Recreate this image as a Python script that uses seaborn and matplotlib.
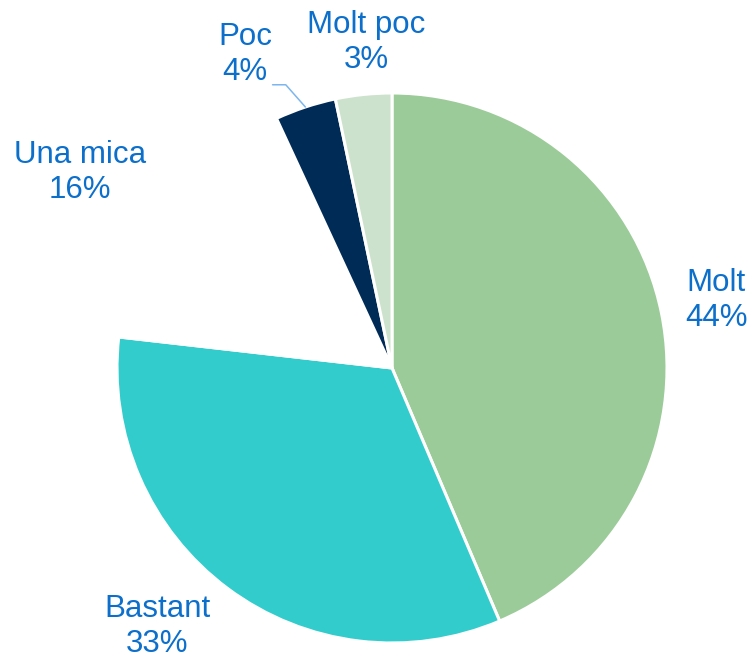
import numpy as np
import matplotlib
matplotlib.use("Agg")
import matplotlib.pyplot as plt
import seaborn as sns

# ------------------------------------------------------------
# DATA
# ------------------------------------------------------------
categories = ["Molt", "Bastant", "Una mica", "Poc", "Molt poc"]
values = [43.6, 33.2, 16.3, 3.6, 3.3]
pct_labels = ["44%", "33%", "16%", "4%", "3%"]

# slice colours, same order as categories
colors = ["#9BCB98", "#33CCCC", "#FFFFFF", "#012B57", "#CCE2CC"]

# label placement: radius (in pie radii) and angle nudge (deg) from wedge middle
label_radius = [1.204, 1.269, 1.340, 1.258, 1.189]
label_shift = [0.3, -5.6, 3.7, 6.8, -1.4]

sns.set_style("white")
plt.rcParams["font.family"] = ["Liberation Sans", "DejaVu Sans"]

fig = plt.figure(figsize=(7.52, 6.6), dpi=100)
ax = fig.add_axes([117 / 752, 17 / 660, 550 / 752, 550 / 660])

wedges, _ = ax.pie(
    values,
    colors=colors,
    startangle=90,
    counterclock=False,
    radius=1.0,
    wedgeprops=dict(edgecolor="white", linewidth=2.2),
)
ax.set_xlim(-1, 1)
ax.set_ylim(-1, 1)
ax.set_aspect("equal")
ax.axis("off")

text_color = "#0B6FCB"
for w, cat, pct, r, sh in zip(wedges, categories, pct_labels, label_radius, label_shift):
    mid = np.deg2rad((w.theta1 + w.theta2) / 2 + sh)
    ax.text(r * np.cos(mid), r * np.sin(mid), f"{cat}\n{pct}",
            ha="center", va="center", fontsize=22.5, color=text_color,
            linespacing=1.22, clip_on=False)

# leader line for the small "Poc" slice
poc = wedges[categories.index("Poc")]
mid = np.deg2rad((poc.theta1 + poc.theta2) / 2)
elbow = np.deg2rad((poc.theta1 + poc.theta2) / 2 + 2.2)
x0, y0 = np.cos(mid), np.sin(mid)
x1, y1 = 1.1 * np.cos(elbow), 1.1 * np.sin(elbow)
ax.plot([x0, x1, x1 - 0.048], [y0, y1, y1], color="#7DB6EE",
        linewidth=1.1, clip_on=False)

fig.savefig("out.png", dpi=100)
